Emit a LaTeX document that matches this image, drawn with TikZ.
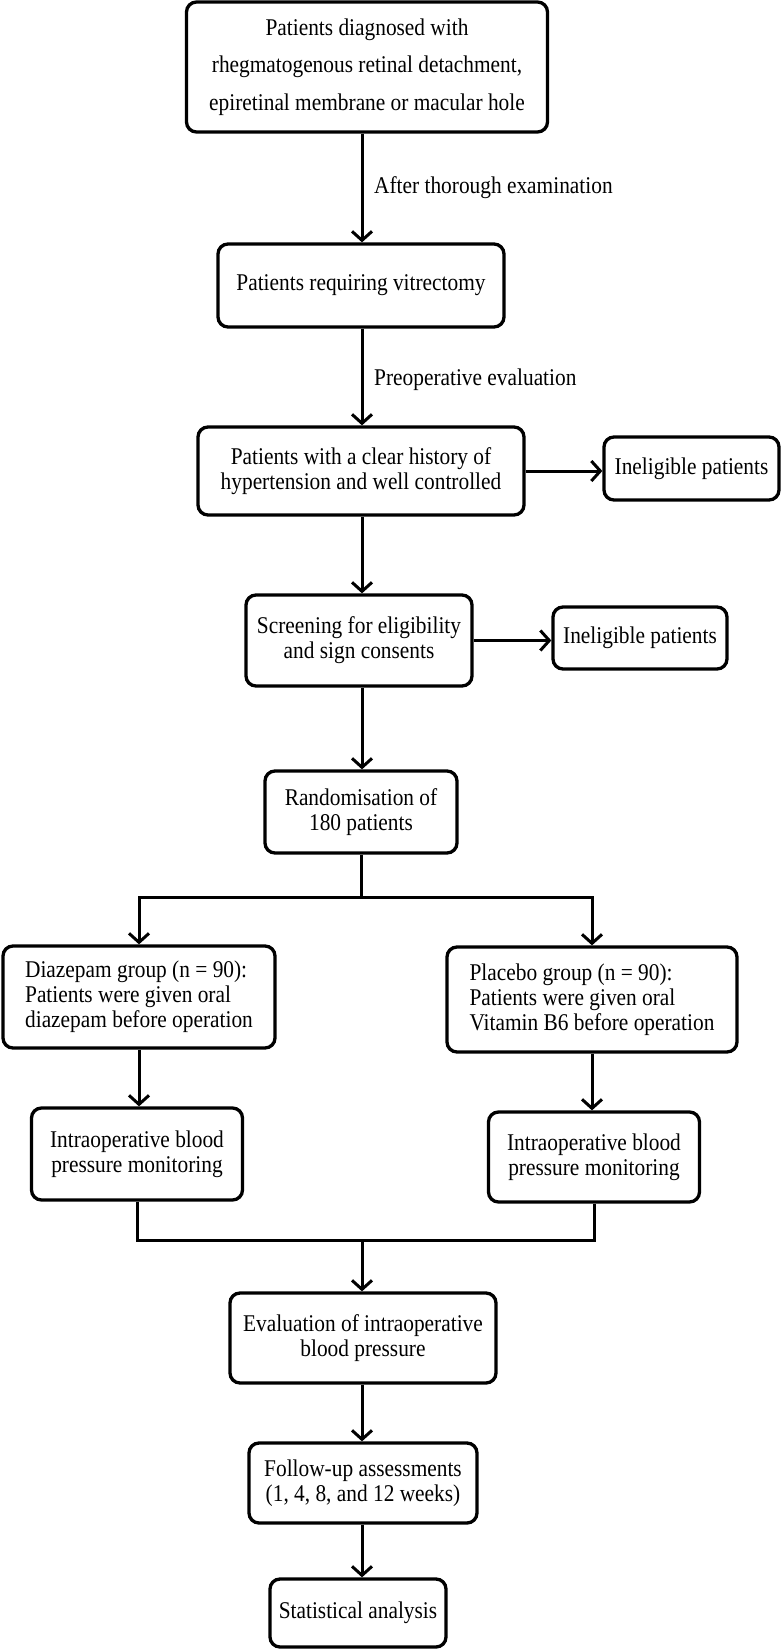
\documentclass[tikz,border=0pt]{standalone}
\usepackage{fontspec}
\setmainfont{Liberation Serif}[FakeStretch=0.89]
\usetikzlibrary{arrows.meta}
\begin{document}
\begin{tikzpicture}[x=1pt,y=-1pt,
  box/.style={draw, line width=3.3pt, rounded corners=10pt, align=center, inner sep=0pt,
    font=\fontsize{24}{24.8}\selectfont},
  lbl/.style={anchor=west, inner sep=0pt, font=\fontsize{24}{24.8}\selectfont},
  arr/.style={line width=3pt, -{Straight Barb[length=9pt,width=20pt,line width=3pt]}},
  ln/.style={line width=3pt}]
\useasboundingbox (0,0) rectangle (781,1652);
\node[box, minimum width=361pt, minimum height=130pt, font=\fontsize{24}{37.5}\selectfont] (b1) at (367,67)
  {Patients diagnosed with\\rhegmatogenous retinal detachment,\\epiretinal membrane or macular hole};
\node[box, minimum width=286pt, minimum height=83pt] (b2) at (361,285.5) {Patients requiring vitrectomy};
\node[box, minimum width=326pt, minimum height=88pt] (b3) at (361,471) {Patients with a clear history of\\hypertension and well controlled};
\node[box, minimum width=175pt, minimum height=63pt] (i1) at (691.5,468.5) {Ineligible patients};
\node[box, minimum width=226pt, minimum height=91pt] (b4) at (359,640.5) {Screening for eligibility\\and sign consents};
\node[box, minimum width=174pt, minimum height=62pt] (i2) at (640,638) {Ineligible patients};
\node[box, minimum width=192pt, minimum height=82pt] (b5) at (361,812) {Randomisation of\\180 patients};
\node[box, minimum width=272pt, minimum height=102pt, align=left] (b6) at (139,997) {Diazepam group (n = 90):\\Patients were given oral\\diazepam before operation};
\node[box, minimum width=290pt, minimum height=105pt, align=left] (b7) at (592,999.5) {Placebo group (n = 90):\\Patients were given oral\\Vitamin B6 before operation};
\node[box, minimum width=211pt, minimum height=92pt] (b8) at (137,1154) {Intraoperative blood\\pressure monitoring};
\node[box, minimum width=211pt, minimum height=90pt] (b9) at (594,1157) {Intraoperative blood\\pressure monitoring};
\node[box, minimum width=266pt, minimum height=90pt] (b10) at (363,1338) {Evaluation of intraoperative\\blood pressure};
\node[box, minimum width=228pt, minimum height=80pt] (b11) at (363,1483) {Follow-up assessments\\(1, 4, 8, and 12 weeks)};
\node[box, minimum width=176pt, minimum height=68pt] (b12) at (358,1613) {Statistical analysis};
\node[lbl] (l1) at (374,188) {After thorough examination};
\node[lbl] (l2) at (374,380) {Preoperative evaluation};
\coordinate (s) at (361,897);
\coordinate (m) at (362,1240);
\draw[arr] (b1.south -| 362,0) -- (b2.north -| 362,0);
\draw[arr] (b2.south -| 362,0) -- (b3.north -| 362,0);
\draw[arr] (b3.east) -- (i1.west |- b3.east);
\draw[arr] (b3.south -| 362,0) -- (b4.north -| 362,0);
\draw[arr] (b4.east) -- (i2.west |- b4.east);
\draw[arr] (b4.south -| 362,0) -- (b5.north -| 362,0);
\draw[ln] (b5.south -| s) -- (s);
\draw[arr] (s) -| (b6.north);
\draw[arr] (s) -| (b7.north);
\draw[arr] (b6.south) -- (b6.south |- b8.north);
\draw[arr] (b7.south) -- (b7.south |- b9.north);
\draw[ln] (b8.south) |- (m);
\draw[ln] (b9.south) |- (m);
\draw[arr] (m) -- (b10.north -| m);
\draw[arr] (b10.south -| 362,0) -- (b11.north -| 362,0);
\draw[arr] (b11.south -| 362,0) -- (b12.north -| 362,0);
\end{tikzpicture}
\end{document}
